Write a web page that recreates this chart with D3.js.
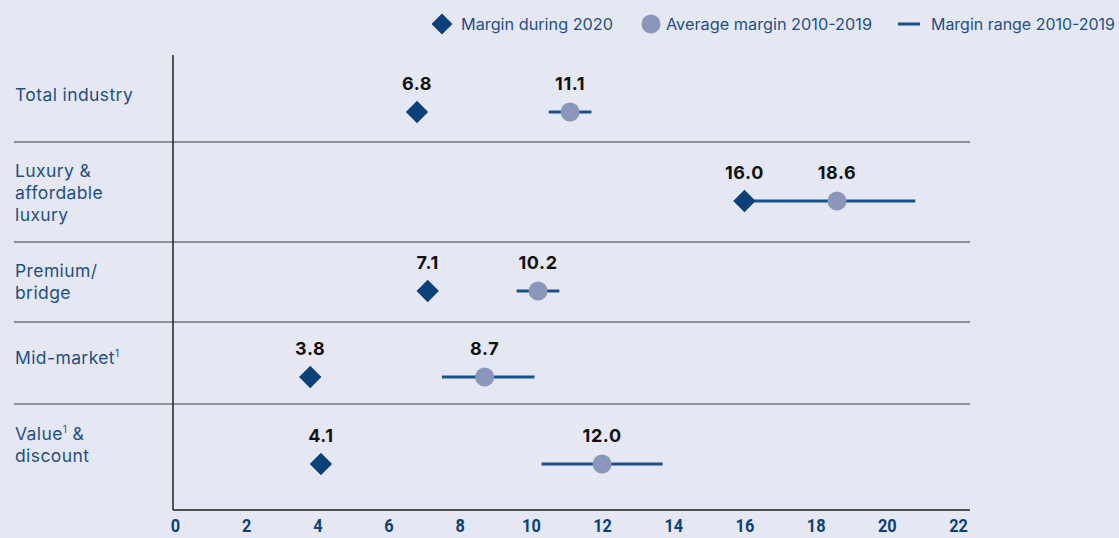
<!DOCTYPE html>
<html><head><meta charset="utf-8">
<script src="https://cdn.jsdelivr.net/npm/d3@7"></script>
<style>
body{margin:0;background:#e5e8f2;}
svg{display:block;}
</style></head>
<body><svg id="c" width="1119" height="538"></svg>
<script>
const categories = ["Total industry","Luxury & affordable luxury","Premium/ bridge","Mid-market","Value & discount"];
const categoryLines = [[["Total industry",""]],[["Luxury &",""],["affordable",""],["luxury",""]],[["Premium/",""],["bridge",""]],[["Mid-market","1"]],[["Value","1"," &"],["discount",""]]];
const margin2020 = [6.8, 16.0, 7.1, 3.8, 4.1];
const avgMargin = [11.1, 18.6, 10.2, 8.7, 12.0];
const rangeLow = [10.5, 15.9, 9.6, 7.5, 10.3];
const rangeHigh = [11.7, 20.8, 10.8, 10.1, 13.7];
const xTicks = [0,2,4,6,8,10,12,14,16,18,20,22];
const legendLabels = ["Margin during 2020","Average margin 2010-2019","Margin range 2010-2019"];

const navy = "#0b4079", grey = "#8a97bb", lineC = "#1b4f8b", txt = "#1f4f86";
const svg = d3.select("#c");
const x = d3.scaleLinear().domain([0,22]).range([175,958]);
const y = d3.scaleOrdinal().domain(categories).range([112,201,291,377,464]);
const labelY = d3.scaleOrdinal().domain(categories).range([95,171,271,358,434]);
const seps = [142,242,322,404];

svg.selectAll("line.sep").data(seps).join("line").attr("class","sep")
  .attr("x1",14).attr("x2",970).attr("y1",d=>d).attr("y2",d=>d)
  .attr("stroke","#3a3a3a").attr("stroke-width",1.2);
svg.append("line").attr("x1",173).attr("x2",173).attr("y1",55).attr("y2",510)
  .attr("stroke","#222").attr("stroke-width",1.5);
const ax = svg.append("g").attr("transform","translate(0,510)")
  .call(d3.axisBottom(x).tickValues(xTicks).tickSize(0).tickPadding(9).tickFormat(d3.format("d")));
ax.select(".domain").attr("d","M173,0H970").attr("stroke","#222").attr("stroke-width",1.5);
ax.selectAll("text").attr("font-family","Roboto, sans-serif").attr("font-weight",700)
  .attr("font-size",19).attr("fill",navy).attr("transform","scale(0.86,1)");

categories.forEach((c,i)=>{
  const t = svg.append("text").attr("y",labelY(c)+6)
    .attr("font-family","Inter, 'Noto Sans', sans-serif").attr("font-size",17.5).attr("letter-spacing",0.4).attr("fill",txt);
  categoryLines[i].forEach((ln,j)=>{
    t.append("tspan").attr("x",15).attr("dy",j===0?0:22).text(ln[0]);
    if (ln[1]) t.append("tspan").attr("font-size",10).attr("dy",-7).text(ln[1]);
    if (ln[2]) t.append("tspan").attr("dy",7).text(ln[2]);
    else if (ln[1]) t.append("tspan").attr("dy",7).text("");
  });
});

const data = categories.map((c,i)=>({c, m:margin2020[i], a:avgMargin[i], lo:rangeLow[i], hi:rangeHigh[i]}));
svg.selectAll("line.rng").data(data).join("line").attr("class","rng")
  .attr("x1",d=>x(d.lo)).attr("x2",d=>x(d.hi)).attr("y1",d=>y(d.c)).attr("y2",d=>y(d.c))
  .attr("stroke",lineC).attr("stroke-width",3);
svg.selectAll("circle.avg").data(data).join("circle").attr("class","avg")
  .attr("cx",d=>x(d.a)).attr("cy",d=>y(d.c)).attr("r",9.5).attr("fill",grey);
const dia = d3.symbol().type(d3.symbolSquare).size(250);
svg.selectAll("path.dia").data(data).join("path").attr("class","dia")
  .attr("d",dia).attr("transform",d=>`translate(${x(d.m)},${y(d.c)}) rotate(45)`).attr("fill",navy);
const fmt = d3.format(".1f");
function vlabel(cls, acc){
  svg.selectAll("text."+cls).data(data).join("text").attr("class",cls)
    .attr("x",d=>x(acc(d))).attr("y",d=>y(d.c)-22).attr("text-anchor","middle")
    .attr("font-family","Inter, sans-serif").attr("font-weight",700).attr("font-size",18).attr("letter-spacing",0.6).attr("fill","#111")
    .text(d=>fmt(acc(d)));
}
vlabel("lm", d=>d.m);
vlabel("la", d=>d.a);

const lg = svg.append("g").attr("font-family","Inter, sans-serif").attr("font-size",15.5).attr("fill",txt);
lg.append("path").attr("d",d3.symbol().type(d3.symbolSquare).size(220)).attr("transform","translate(442,24) rotate(45)").attr("fill",navy);
lg.append("text").attr("x",461).attr("y",30).attr("textLength",152).attr("lengthAdjust","spacingAndGlyphs").text(legendLabels[0]);
lg.append("circle").attr("cx",651).attr("cy",24).attr("r",9.5).attr("fill",grey);
lg.append("text").attr("x",666).attr("y",30).attr("textLength",206).attr("lengthAdjust","spacingAndGlyphs").text(legendLabels[1]);
lg.append("line").attr("x1",898).attr("x2",920).attr("y1",24).attr("y2",24).attr("stroke",lineC).attr("stroke-width",3);
lg.append("text").attr("x",931).attr("y",30).attr("textLength",184).attr("lengthAdjust","spacingAndGlyphs").text(legendLabels[2]);
</script></body></html>
